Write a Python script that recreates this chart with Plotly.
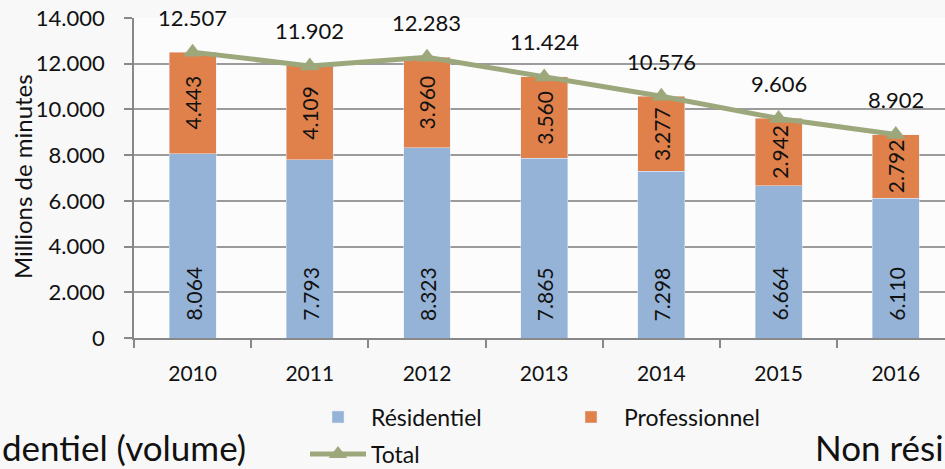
import plotly.graph_objects as go

# ---- data ----
years = ["2010", "2011", "2012", "2013", "2014", "2015", "2016"]
residentiel = [8064, 7793, 8323, 7865, 7298, 6664, 6110]
professionnel = [4443, 4109, 3960, 3560, 3277, 2942, 2792]
total = [12507, 11902, 12283, 11424, 10576, 9606, 8902]
y_tick_vals = [0, 2000, 4000, 6000, 8000, 10000, 12000, 14000]
y_tick_text = ["0", "2.000", "4.000", "6.000", "8.000", "10.000", "12.000", "14.000"]


def fr(v):
    return f"{v:,}".replace(",", ".")


FONT = "Lato"
BLUE = "#95B3D7"
ORANGE = "#E0804A"
GREEN = "#9CA87C"
GRID = "#9B9B9B"
TXT = "#111111"

W, H = 945, 469
ML, MR, MT, MB = 134, 0, 18, 131
PW = W - ML - MR
PH = H - MT - MB

fig = go.Figure()
fig.add_trace(go.Bar(x=years, y=residentiel, name="Résidentiel", marker_color=BLUE,
                     width=0.4, legend="legend"))
fig.add_trace(go.Bar(x=years, y=professionnel, name="Professionnel", marker_color=ORANGE,
                     width=0.4, legend="legend"))
fig.add_trace(go.Scatter(x=years, y=total, name="Total", mode="lines+markers",
                         line=dict(color=GREEN, width=5),
                         marker=dict(symbol="triangle-up", size=17, color=GREEN),
                         legend="legend2"))

annotations = []
for i, t in enumerate(total):
    annotations.append(dict(x=i, y=t, xref="x", yref="y", text=fr(t), showarrow=False,
                            yshift=35, font=dict(family=FONT, size=22, color=TXT)))
for i, r in enumerate(residentiel):
    annotations.append(dict(x=i, y=0, xref="x", yref="y", text=fr(r), showarrow=False,
                            yshift=44, textangle=-90,
                            font=dict(family=FONT, size=21, color=TXT)))
for i, (r, p) in enumerate(zip(residentiel, professionnel)):
    annotations.append(dict(x=i, y=r + p / 2, xref="x", yref="y", text=fr(p),
                            showarrow=False, textangle=-90,
                            font=dict(family=FONT, size=21, color=TXT)))

# axis title
annotations.append(dict(xref="paper", yref="paper", x=(22 - ML) / PW, y=(MT + PH - 177) / PH,
                        text="Millions de minutes", showarrow=False, textangle=-90,
                        xanchor="center", yanchor="middle",
                        font=dict(family=FONT, size=24, color=TXT)))
# slide text cut by the crop
annotations.append(dict(xref="paper", yref="paper", x=(0 - ML) / PW, y=(MT + PH - 447) / PH,
                        text="dentiel (volume)", showarrow=False, xanchor="left",
                        yanchor="middle", font=dict(family=FONT, size=35, color=TXT)))
annotations.append(dict(xref="paper", yref="paper", x=(813 - ML) / PW, y=(MT + PH - 447) / PH,
                        text="Non rési", showarrow=False, xanchor="left",
                        yanchor="middle", font=dict(family=FONT, size=35, color=TXT)))

fig.update_layout(
    width=W, height=H,
    margin=dict(l=ML, r=MR, t=MT, b=MB, pad=0),
    barmode="stack",
    paper_bgcolor="#F8F8F8",
    plot_bgcolor="#FCFCFC",
    font=dict(family=FONT, size=22, color=TXT),
    annotations=annotations,
    legend=dict(orientation="h", xref="container", yref="container",
                x=305 / W, y=1 - 417 / H, xanchor="left", yanchor="middle",
                itemwidth=56, entrywidth=182, entrywidthmode="pixels",
                bgcolor="rgba(0,0,0,0)", font=dict(family=FONT, size=23, color=TXT),
                traceorder="normal"),
    legend2=dict(orientation="h", xref="container", yref="container",
                 x=305 / W, y=1 - 454 / H, xanchor="left", yanchor="middle",
                 itemwidth=56,
                 bgcolor="rgba(0,0,0,0)", font=dict(family=FONT, size=23, color=TXT)),
    xaxis=dict(
        type="category", range=[-0.5, 6.42],
        showline=True, linecolor="#888888", linewidth=1.5,
        ticks="outside", tickson="boundaries", ticklen=8, tickcolor="#888888", tickwidth=1.5,
        showgrid=False, ticklabelstandoff=16,
        tickfont=dict(family=FONT, size=21, color=TXT),
    ),
    yaxis=dict(
        range=[0, 14000], tickvals=y_tick_vals, ticktext=y_tick_text,
        showline=True, linecolor="#888888", linewidth=1.5,
        ticks="outside", ticklen=8, tickcolor="#888888", tickwidth=1.5,
        showgrid=True, gridcolor=GRID, gridwidth=1.5, zeroline=False,
        ticklabelstandoff=15,
        tickfont=dict(family=FONT, size=22, color=TXT),
    ),
)

fig.write_html("out.html", config={"displayModeBar": False},
               post_script="document.body.style.margin='0px';")
